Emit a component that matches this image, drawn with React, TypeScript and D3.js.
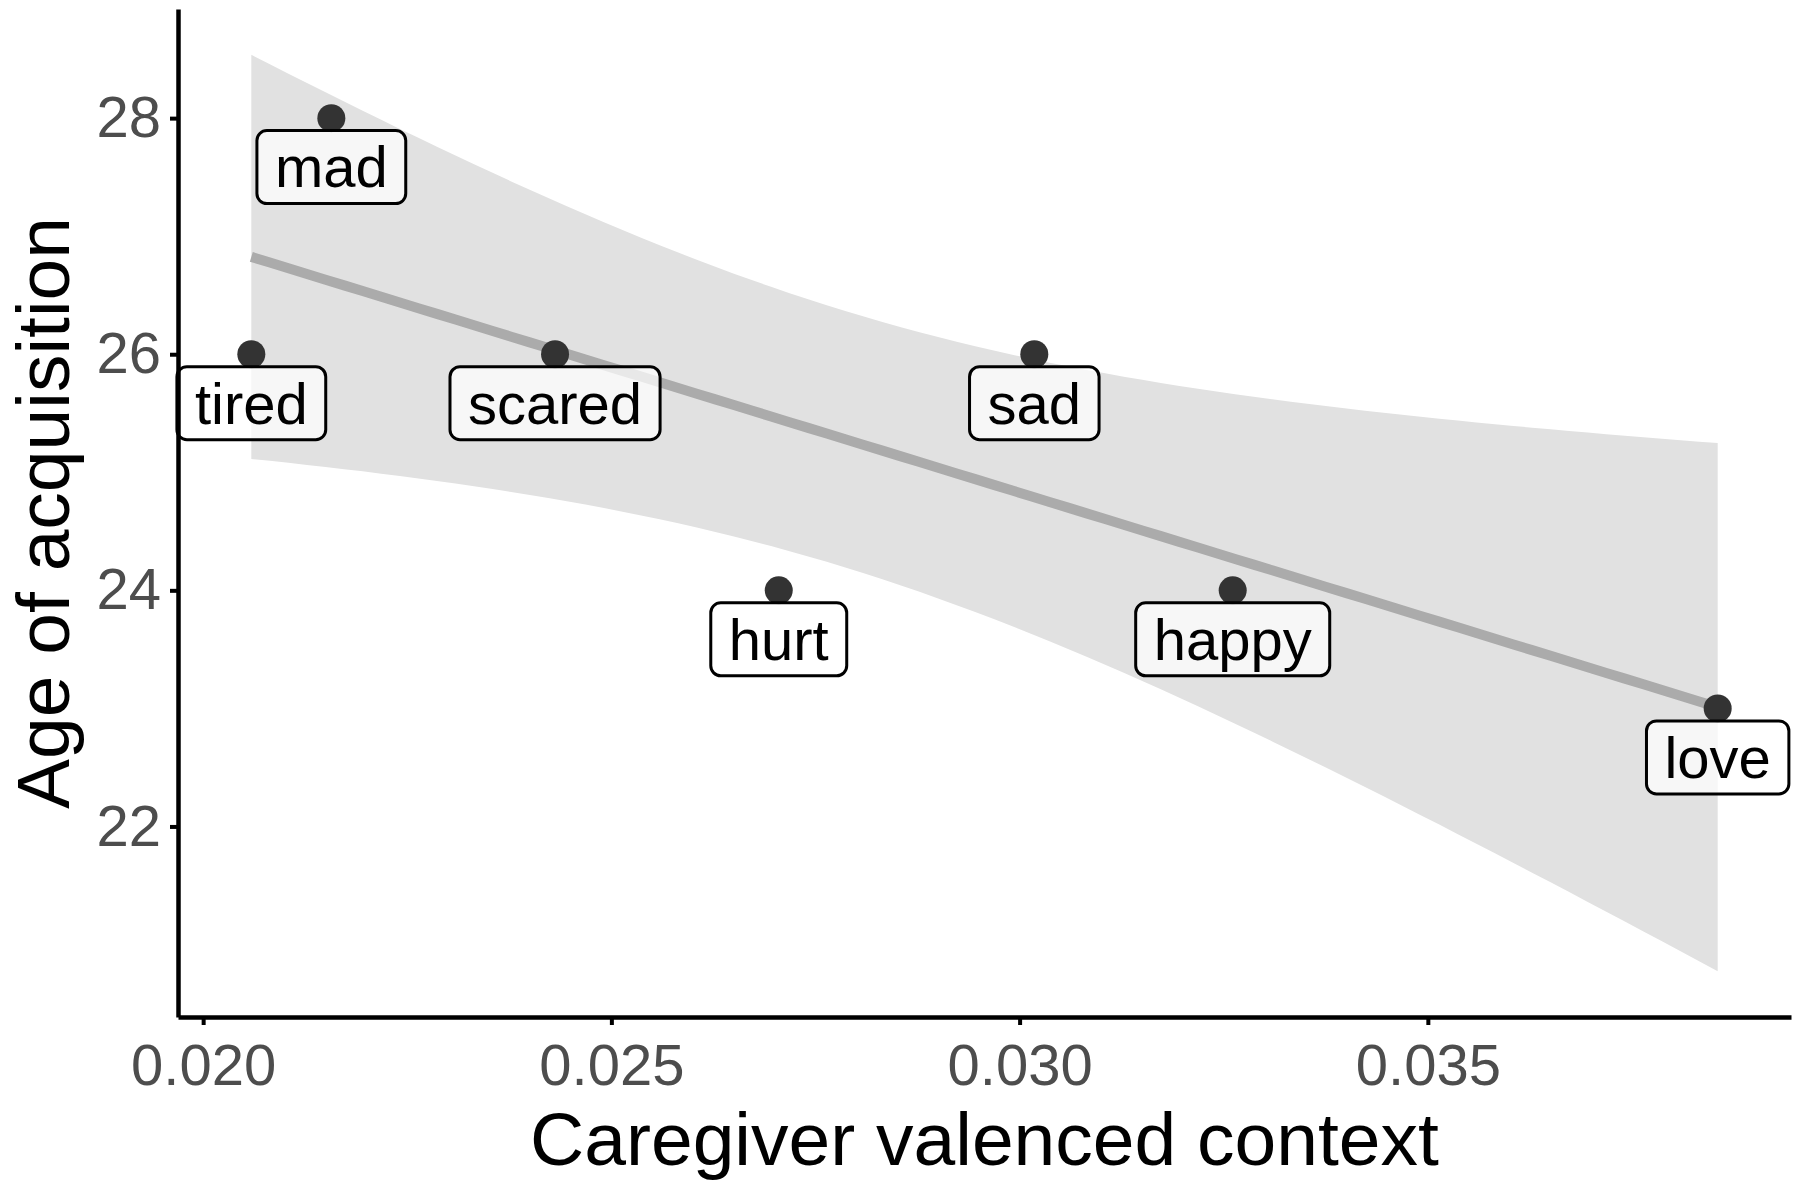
import React, { useEffect, useRef } from "react";
import * as d3 from "d3";

const words = ["tired", "mad", "scared", "hurt", "sad", "happy", "love"];
const valencedContext = [0.02059, 0.02157, 0.02431, 0.02705, 0.03018, 0.03261, 0.03855];
const ageOfAcquisition = [26, 28, 26, 24, 26, 24, 23];
const xTicks = [0.02, 0.025, 0.03, 0.035];
const yTicks = [22, 24, 26, 28];

const WIDTH = 1800;
const HEIGHT = 1190;
const margin = { top: 9, right: 9, bottom: 173, left: 178 };
const FONT = "'Liberation Sans', Arial, Helvetica, sans-serif";

// t quantile (0.975) for n - 2 = 5 degrees of freedom
const T_975_DF5 = 2.570582;

interface Point {
  word: string;
  x: number;
  y: number;
}

// ordinary least squares fit with a 95% confidence band, like geom_smooth(method = "lm")
function fitLm(points: Point[]) {
  const n = points.length;
  const mx = d3.mean(points, (d) => d.x) ?? 0;
  const my = d3.mean(points, (d) => d.y) ?? 0;
  const sxx = d3.sum(points, (d) => (d.x - mx) ** 2);
  const sxy = d3.sum(points, (d) => (d.x - mx) * (d.y - my));
  const slope = sxy / sxx;
  const intercept = my - slope * mx;
  const sse = d3.sum(points, (d) => (d.y - (intercept + slope * d.x)) ** 2);
  const s = Math.sqrt(sse / (n - 2));
  const [x0, x1] = d3.extent(points, (d) => d.x) as [number, number];
  const grid = d3.range(80).map((i) => x0 + ((x1 - x0) * i) / 79);
  return grid.map((x) => {
    const fit = intercept + slope * x;
    const se = s * Math.sqrt(1 / n + (x - mx) ** 2 / sxx);
    return { x, fit, lo: fit - T_975_DF5 * se, hi: fit + T_975_DF5 * se };
  });
}

const App: React.FC = () => {
  const svgRef = useRef<SVGSVGElement>(null);

  useEffect(() => {
    const svg = d3.select(svgRef.current);
    svg.selectAll("*").remove();

    const data: Point[] = words.map((w, i) => ({
      word: w,
      x: valencedContext[i],
      y: ageOfAcquisition[i],
    }));
    const band = fitLm(data);

    // ggplot-style 5% expansion of the data (and ribbon) range
    const [xmin, xmax] = d3.extent(data, (d) => d.x) as [number, number];
    const xpad = (xmax - xmin) * 0.05;
    const ymin = Math.min(d3.min(band, (d) => d.lo) ?? 0, d3.min(data, (d) => d.y) ?? 0);
    const ymax = Math.max(d3.max(band, (d) => d.hi) ?? 0, d3.max(data, (d) => d.y) ?? 0);
    const ypad = (ymax - ymin) * 0.05;

    const xScale = d3
      .scaleLinear()
      .domain([xmin - xpad, xmax + xpad])
      .range([margin.left, WIDTH - margin.right]);
    const yScale = d3
      .scaleLinear()
      .domain([ymin - ypad, ymax + ypad])
      .range([HEIGHT - margin.bottom, margin.top]);

    // confidence ribbon
    const area = d3
      .area<{ x: number; lo: number; hi: number }>()
      .x((d) => xScale(d.x))
      .y0((d) => yScale(d.lo))
      .y1((d) => yScale(d.hi));
    svg.append("path").datum(band).attr("d", area).attr("fill", "#e1e1e1");

    // regression line
    const line = d3
      .line<{ x: number; fit: number }>()
      .x((d) => xScale(d.x))
      .y((d) => yScale(d.fit));
    svg
      .append("path")
      .datum(band)
      .attr("d", line)
      .attr("fill", "none")
      .attr("stroke", "#ababab")
      .attr("stroke-width", 10);

    // points
    svg
      .append("g")
      .selectAll("circle")
      .data(data)
      .join("circle")
      .attr("cx", (d) => xScale(d.x))
      .attr("cy", (d) => yScale(d.y))
      .attr("r", 14)
      .attr("fill", "#333333");

    // labels below points
    const labelFont = 58;
    const nudge = -0.415;
    const labels = svg
      .append("g")
      .selectAll("g")
      .data(data)
      .join("g")
      .attr("transform", (d) => `translate(${xScale(d.x)},${yScale(d.y + nudge)})`);
    labels
      .append("rect")
      .attr("fill", "#ffffff")
      .attr("fill-opacity", 0.72)
      .attr("stroke", "#000")
      .attr("stroke-width", 3)
      .attr("rx", 10);
    labels
      .append("text")
      .text((d) => d.word)
      .attr("text-anchor", "middle")
      .attr("y", labelFont * 0.35)
      .attr("font-family", FONT)
      .attr("font-size", labelFont)
      .attr("fill", "#000");
    labels.each(function () {
      const g = d3.select(this);
      const t = g.select<SVGTextElement>("text").node();
      const w = t ? t.getComputedTextLength() : 100;
      const bw = w + 36;
      const bh = 73;
      g.select("rect")
        .attr("x", -bw / 2)
        .attr("y", -bh / 2)
        .attr("width", bw)
        .attr("height", bh);
    });

    // axes
    const xAxis = d3
      .axisBottom(xScale)
      .tickValues(xTicks)
      .tickFormat(d3.format(".3f") as any)
      .tickSize(8)
      .tickSizeOuter(0)
      .tickPadding(19);
    const yAxis = d3
      .axisLeft(yScale)
      .tickValues(yTicks)
      .tickFormat(d3.format("d") as any)
      .tickSize(8)
      .tickSizeOuter(0)
      .tickPadding(9);

    const gx = svg
      .append("g")
      .attr("transform", `translate(0,${HEIGHT - margin.bottom})`)
      .call(xAxis);
    const gy = svg
      .append("g")
      .attr("transform", `translate(${margin.left},0)`)
      .call(yAxis);

    [gx, gy].forEach((g) => {
      g.select(".domain").attr("stroke", "#000").attr("stroke-width", 4.5);
      g.selectAll(".tick line").attr("stroke", "#000").attr("stroke-width", 4);
      g.selectAll(".tick text")
        .attr("font-family", FONT)
        .attr("font-size", 58)
        .attr("fill", "#4d4d4d");
    });

    // axis titles
    svg
      .append("text")
      .attr("x", (margin.left + WIDTH - margin.right) / 2)
      .attr("y", 1165)
      .attr("text-anchor", "middle")
      .attr("font-family", FONT)
      .attr("font-size", 75)
      .attr("fill", "#000")
      .text("Caregiver valenced context");
    svg
      .append("text")
      .attr("transform", `translate(69,${(margin.top + HEIGHT - margin.bottom) / 2}) rotate(-90)`)
      .attr("text-anchor", "middle")
      .attr("font-family", FONT)
      .attr("font-size", 75)
      .attr("fill", "#000")
      .text("Age of acquisition");
  }, []);

  return (
    <svg
      ref={svgRef}
      width={WIDTH}
      height={HEIGHT}
      style={{ position: "absolute", left: 0, top: 0, display: "block", background: "#fff" }}
    />
  );
};

export default App;
